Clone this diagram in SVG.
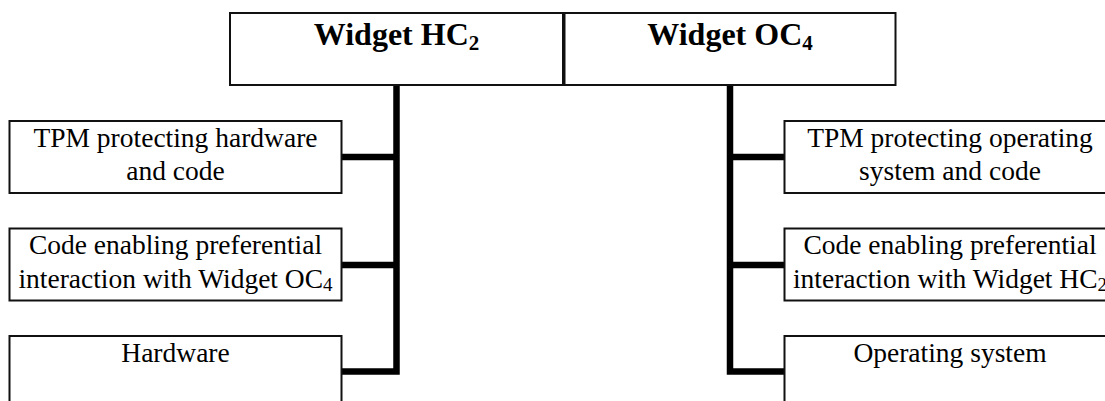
<svg xmlns="http://www.w3.org/2000/svg" width="1105" height="401" viewBox="0 0 1105 401">
<style>
.box{fill:#fff;stroke:#111;stroke-width:2}
.title{font-family:"Liberation Serif","Times New Roman",serif;font-weight:bold;font-size:32px;text-anchor:middle;fill:#000}
.t{font-family:"Liberation Serif","Times New Roman",serif;font-size:27.5px;text-anchor:middle;fill:#000}
.sub{font-size:19px}
.conn{fill:none;stroke:#000;stroke-width:6.5}
</style>
<rect width="1105" height="401" fill="#fff"/>
<g id="connectors">
<path class="conn" d="M396.5,85 V374.5 M341.5,157 H399.75 M341.5,265 H399.75 M341.5,371.5 H399.75"/>
<path class="conn" d="M730,85 V374.5 M726.75,157 H784.5 M726.75,265 H784.5 M726.75,371.5 H784.5"/>
</g>
<g id="widget-hc2">
<rect class="box" x="230" y="13" width="333" height="72"/>
<text class="title" x="396.5" y="45">Widget HC<tspan font-size="21" dy="5">2</tspan></text>
</g>
<g id="widget-oc4">
<rect class="box" x="564.5" y="13" width="331" height="72"/>
<text class="title" x="730" y="45">Widget OC<tspan font-size="21" dy="5">4</tspan></text>
</g>
<g id="tpm-hw">
<rect class="box" x="9.5" y="121" width="332" height="72"/>
<text class="t" x="175.5" y="146.5">TPM protecting hardware</text>
<text class="t" x="175.5" y="180">and code</text>
</g>
<g id="code-hc">
<rect class="box" x="9.5" y="228.5" width="332" height="72"/>
<text class="t" x="175.5" y="254">Code enabling preferential</text>
<text class="t" x="175.5" y="287.5">interaction with Widget OC<tspan class="sub" dy="3">4</tspan></text>
</g>
<g id="hardware">
<rect class="box" x="9.5" y="336" width="332" height="80"/>
<text class="t" x="175.5" y="361.5">Hardware</text>
</g>
<g id="tpm-os">
<rect class="box" x="784.5" y="121" width="332" height="72"/>
<text class="t" x="950" y="146.5">TPM protecting operating</text>
<text class="t" x="950" y="180">system and code</text>
</g>
<g id="code-oc">
<rect class="box" x="784.5" y="228.5" width="332" height="72"/>
<text class="t" x="950" y="254">Code enabling preferential</text>
<text class="t" x="950" y="287.5">interaction with Widget HC<tspan class="sub" dy="3">2</tspan></text>
</g>
<g id="operating-system">
<rect class="box" x="784.5" y="336" width="332" height="80"/>
<text class="t" x="950" y="361.5">Operating system</text>
</g>
</svg>
